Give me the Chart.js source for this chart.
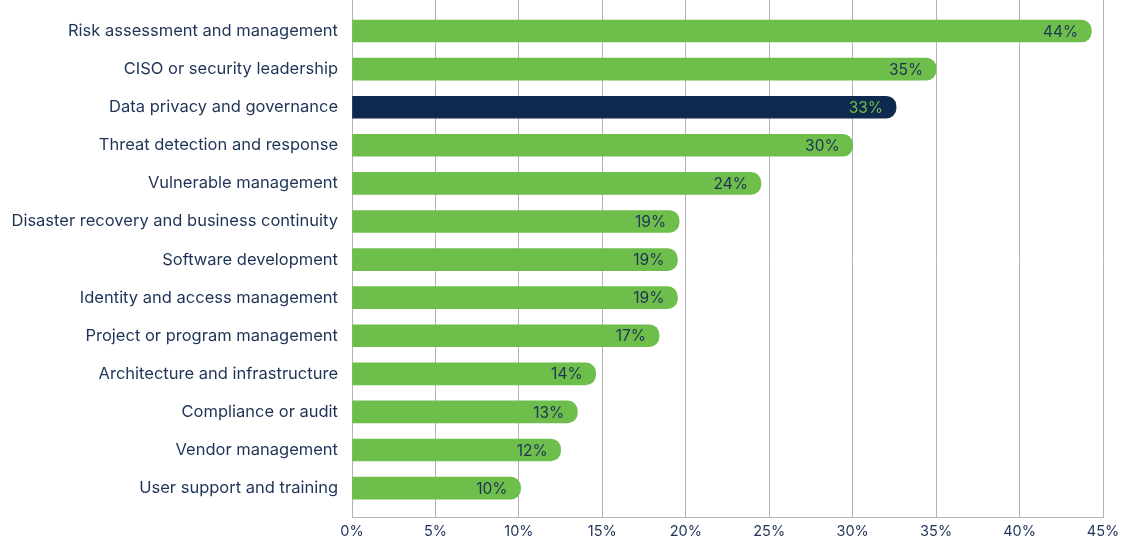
<!DOCTYPE html>
<html>
<head>
<meta charset="utf-8">
<script src="https://cdn.jsdelivr.net/npm/chart.js@4"></script>
<style>
  html, body { margin: 0; padding: 0; background: #ffffff; }
  #wrap { width: 1137px; height: 539px; position: relative; }
</style>
</head>
<body>
<div id="wrap"><canvas id="c" width="1137" height="539"></canvas></div>
<script>
const categories = [
  "Risk assessment and management",
  "CISO or security leadership",
  "Data privacy and governance",
  "Threat detection and response",
  "Vulnerable management",
  "Disaster recovery and business continuity",
  "Software development",
  "Identity and access management",
  "Project or program management",
  "Architecture and infrastructure",
  "Compliance or audit",
  "Vendor management",
  "User support and training"
];
// bar lengths as drawn (percent)
const barValues = [44.3, 35.0, 32.6, 30.0, 24.5, 19.6, 19.5, 19.5, 18.4, 14.6, 13.5, 12.5, 10.1];
// labels printed on the bars
const shownLabels = ["44%", "35%", "33%", "30%", "24%", "19%", "19%", "19%", "17%", "14%", "13%", "12%", "10%"];
const highlightIndex = 2;
const xTicks = [0, 5, 10, 15, 20, 25, 30, 35, 40, 45];

const GREEN = '#6EBE4B';
const NAVY = '#0F2A4E';
const TEXT = '#1E3357';
const FONT = 'Inter, "Noto Sans", sans-serif';

const barColors = categories.map((_, i) => i === highlightIndex ? NAVY : GREEN);
const labelColors = categories.map((_, i) => i === highlightIndex ? GREEN : TEXT);

const valueLabels = {
  id: 'valueLabels',
  afterDatasetsDraw(chart) {
    const ctx = chart.ctx;
    const meta = chart.getDatasetMeta(0);
    ctx.save();
    ctx.font = '15.5px ' + FONT;
    ctx.textAlign = 'right';
    ctx.textBaseline = 'middle';
    meta.data.forEach((el, i) => {
      ctx.fillStyle = labelColors[i];
      ctx.fillText(shownLabels[i], el.x - 13, el.y + 1);
    });
    ctx.restore();
  }
};

new Chart(document.getElementById('c'), {
  type: 'bar',
  data: {
    datasets: [{
      data: barValues.map((v, i) => ({ x: v, y: i })),
      backgroundColor: barColors,
      borderWidth: 0,
      borderRadius: 10,
      borderSkipped: 'start',
      barThickness: 22
    }]
  },
  options: {
    indexAxis: 'y',
    responsive: false,
    animation: false,
    devicePixelRatio: 1,
    layout: { padding: { top: 0, right: 34, bottom: 0, left: 0 } },
    plugins: { legend: { display: false }, tooltip: { enabled: false } },
    scales: {
      x: {
        type: 'linear',
        position: 'bottom',
        min: 0,
        max: 45,
        offset: false,
        afterBuildTicks: (s) => { s.ticks = xTicks.map(v => ({ value: v })); },
        ticks: {
          callback: (v) => v + '%',
          color: TEXT,
          font: { family: FONT, size: 14.5 },
          padding: 6,
          maxRotation: 0
        },
        grid: { color: '#B5B5B5', lineWidth: 1, drawTicks: false, offset: false },
        border: { display: true, color: '#B5B5B5' },
        afterFit: (s) => { s.height = 22; }
      },
      y: {
        type: 'linear',
        reverse: true,
        min: -0.815,
        max: 12.76,
        offset: false,
        ticks: {
          stepSize: 1,
          includeBounds: false,
          autoSkip: false,
          callback: (v) => (Number.isInteger(v) && categories[v] !== undefined) ? categories[v] : '',
          color: TEXT,
          font: { family: FONT, size: 16.5 },
          padding: 14
        },
        grid: { display: false, drawTicks: false, offset: false },
        border: { display: false },
        afterFit: (s) => { s.width = 352; s.paddingTop = 0; s.paddingBottom = 0; }
      }
    }
  },
  plugins: [valueLabels]
});
</script>
</body>
</html>
